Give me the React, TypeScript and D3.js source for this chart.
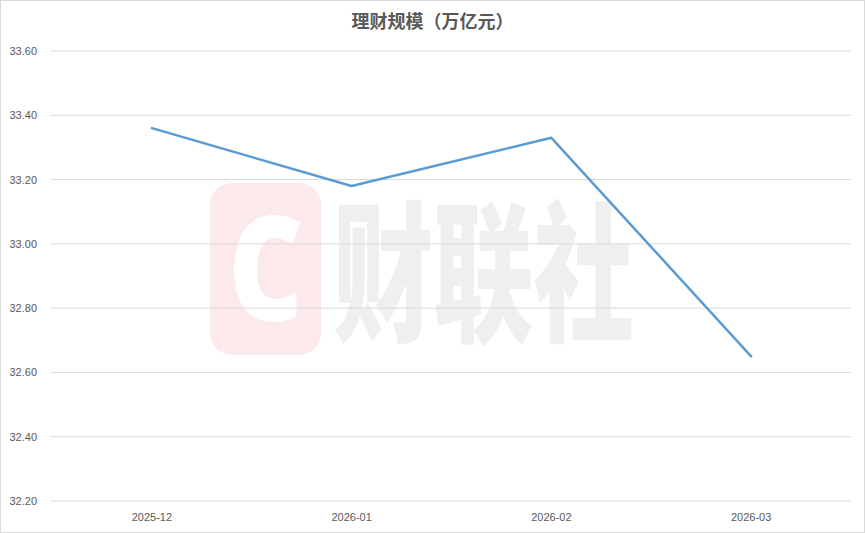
import React from "react";
import * as d3 from "d3";

const categories = ["2025-12", "2026-01", "2026-02", "2026-03"];
const values = [33.36, 33.18, 33.33, 32.65];
const yTicks = [32.2, 32.4, 32.6, 32.8, 33.0, 33.2, 33.4, 33.6];
const title = "理财规模（万亿元）";

const W = 865;
const H = 533;
const M = { left: 52, right: 14, top: 51, bottom: 32 };

export default function App() {
  const x = d3
    .scaleBand<string>()
    .domain(categories)
    .range([M.left, W - M.right]);
  const y = d3
    .scaleLinear()
    .domain([32.2, 33.6])
    .range([H - M.bottom, M.top]);
  const line = d3
    .line<number>()
    .x((_, i) => (x(categories[i]) as number) + x.bandwidth() / 2)
    .y((d) => y(d));
  const font = "'Liberation Sans', Arial, sans-serif";
  return (
    <svg
      width={W}
      height={H}
      style={{ position: "absolute", left: 0, top: 0 }}
      fontFamily={font}
    >
      <rect x={0.5} y={0.5} width={W - 1} height={H - 1} fill="#fff" stroke="#d9d9d9" />
      {/* watermark */}
      <g>
        <rect x={210} y={183} width={111} height={172} rx={22} fill="#fbe9ec" />
        <text
          x={266}
          y={321}
          textAnchor="middle"
          fontFamily="'Noto Sans', sans-serif"
          fontWeight={900}
          fontSize={145}
          fill="#fff"
          transform="translate(266,0) scale(0.8,1) translate(-266,0)"
        >
          C
        </text>
        <text
          x={333}
          y={330}
          fontFamily="'Noto Sans CJK SC', sans-serif"
          fontWeight={900}
          fontSize={152}
          fill="#efefef"
          transform="translate(333,0) scale(0.66,1) translate(-333,0)"
        >
          财联社
        </text>
      </g>
      {yTicks.map((t) => (
        <g key={t}>
          <line x1={M.left - 1} x2={W - M.right} y1={y(t)} y2={y(t)} stroke="#d9d9d9" strokeWidth={1} />
          <text x={37} y={y(t) + 4} textAnchor="end" fontSize={11} fill="#595959">
            {t.toFixed(2)}
          </text>
        </g>
      ))}
      {categories.map((c) => (
        <text
          key={c}
          x={(x(c) as number) + x.bandwidth() / 2}
          y={521}
          textAnchor="middle"
          fontSize={11}
          fill="#595959"
        >
          {c}
        </text>
      ))}
      <path d={line(values) || ""} fill="none" stroke="#5b9bd5" strokeWidth={2.5} strokeLinejoin="round" strokeLinecap="round" />
      <text
        x={W / 2}
        y={28}
        textAnchor="middle"
        fontSize={18}
        fontWeight="bold"
        fill="#595959"
        fontFamily="'Noto Sans CJK SC', sans-serif"
      >
        {title}
      </text>
    </svg>
  );
}
